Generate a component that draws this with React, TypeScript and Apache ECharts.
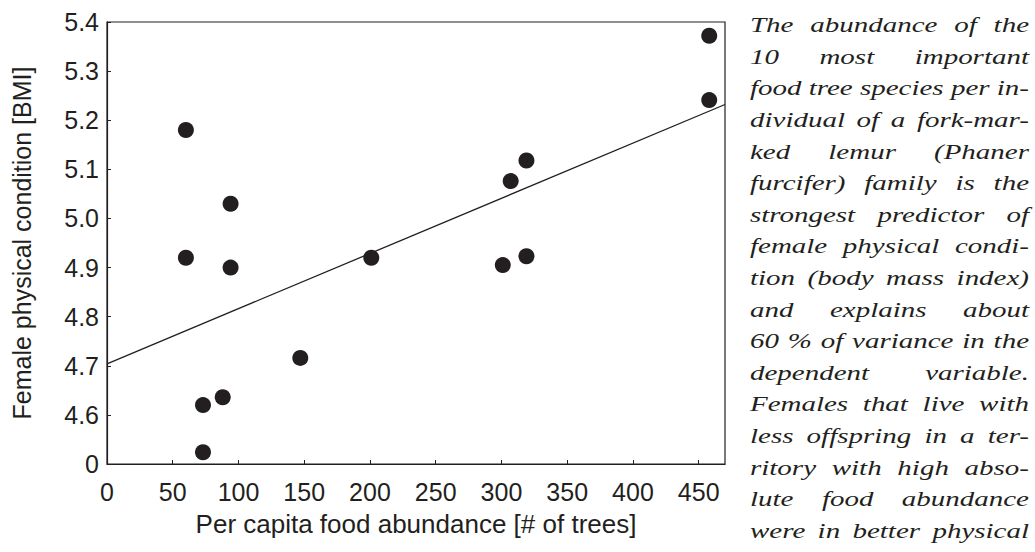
import React, { useEffect, useRef } from "react";
import * as echarts from "echarts";

// Per capita food abundance (# of trees) and female BMI, one point per family
const abundance = [60, 60, 94, 94, 73, 88, 73, 147, 201, 301, 307, 319, 319, 458, 458];
const bmi = [5.18, 4.92, 5.03, 4.9, 4.62, 4.636, 4.524, 4.716, 4.92, 4.905, 5.076, 5.118, 4.923, 5.372, 5.241];

// Least-squares fit line end points
const fitX = [0, 470];
const fitY = [4.704, 5.232];

const xTicks = [0, 50, 100, 150, 200, 250, 300, 350, 400, 450];
const yTicks = [4.5, 4.6, 4.7, 4.8, 4.9, 5.0, 5.1, 5.2, 5.3, 5.4];
const yTickLabels = ["0", "4.6", "4.7", "4.8", "4.9", "5.0", "5.1", "5.2", "5.3", "5.4"];

const captionLines = [
  "The abundance of the",
  "10 most important",
  "food tree species per in-",
  "dividual of a fork-mar-",
  "ked lemur (Phaner",
  "furcifer) family is the",
  "strongest predictor of",
  "female physical condi-",
  "tion (body mass index)",
  "and explains about",
  "60 % of variance in the",
  "dependent variable.",
  "Females that live with",
  "less offspring in a ter-",
  "ritory with high abso-",
  "lute food abundance",
  "were in better physical",
  "condition than others.",
];

const INK = "#231f20";
const AXIS_FONT = "Liberation Sans";
const CAPTION_FAMILY = "Liberation Serif";
const CAPTION_SIZE = 22;

// Justified caption column: every word is its own text element so the
// lines can be spread to the full column width.
function buildCaption() {
  const canvas = document.createElement("canvas");
  const ctx = canvas.getContext("2d")!;
  ctx.font = `italic ${CAPTION_SIZE}px "${CAPTION_FAMILY}", serif`;
  const left = 750;
  const right = 1029;
  const width = right - left;
  const top = 25;
  const lineStep = 31.6;
  const spaceW = ctx.measureText(" ").width;
  const measured = captionLines.map((line) => {
    const words = line.split(" ");
    const widths = words.map((w) => ctx.measureText(w).width);
    const total = widths.reduce((a, b) => a + b, 0);
    return { words, widths, total };
  });
  // widen the glyphs so the tightest line just fills the column
  const natural = Math.max(...measured.map((m) => m.total + spaceW * (m.words.length - 1)));
  const stretch = width / natural;
  const els: any[] = [];
  measured.forEach((m, i) => {
    const gaps = m.words.length - 1;
    const justify = i < captionLines.length - 1 && gaps > 0;
    const used = m.total * stretch;
    const gap = justify ? (width - used) / gaps : spaceW * stretch;
    let x = left;
    const y = top + i * lineStep;
    m.words.forEach((w, k) => {
      els.push({
        type: "text",
        x,
        y,
        scaleX: stretch,
        style: {
          text: w,
          fill: INK,
          fontFamily: CAPTION_FAMILY,
          fontStyle: "italic",
          fontSize: CAPTION_SIZE,
          textAlign: "left",
          textVerticalAlign: "middle",
        },
      });
      x += m.widths[k] * stretch + gap;
    });
  });
  return els;
}

export default function App() {
  const ref = useRef<HTMLDivElement>(null);

  useEffect(() => {
    if (!ref.current) return;
    const chart = echarts.init(ref.current, null, { renderer: "svg" });
    const labelFor = (v: number) => {
      const idx = yTicks.findIndex((t) => Math.abs(t - v) < 1e-6);
      return idx >= 0 ? yTickLabels[idx] : "";
    };
    chart.setOption({
      animation: false,
      backgroundColor: "#ffffff",
      grid: {
        left: 107,
        top: 22,
        width: 618,
        height: 442,
        show: true,
        borderColor: INK,
        borderWidth: 1.2,
        backgroundColor: "transparent",
      },
      xAxis: {
        type: "value",
        min: 0,
        max: 470,
        interval: 50,
        name: "Per capita food abundance [# of trees]",
        nameLocation: "middle",
        nameGap: 47,
        nameTextStyle: { fontFamily: AXIS_FONT, fontSize: 26, color: INK },
        axisLine: { show: true, onZero: false, lineStyle: { color: INK, width: 1.2 } },
        axisTick: { show: true, inside: true, length: 4, customValues: xTicks, lineStyle: { color: INK } },
        axisLabel: {
          customValues: xTicks,
          margin: 15,
          fontFamily: AXIS_FONT,
          fontSize: 25,
          color: INK,
        },
        splitLine: { show: false },
      },
      yAxis: {
        type: "value",
        min: 4.5,
        max: 5.4,
        interval: 0.1,
        name: "Female physical condition [BMI]",
        nameLocation: "middle",
        nameGap: 73,
        nameTextStyle: { fontFamily: AXIS_FONT, fontSize: 25, color: INK },
        axisLine: { show: true, onZero: false, lineStyle: { color: INK, width: 1.2 } },
        axisTick: { show: true, inside: true, length: 4, lineStyle: { color: INK } },
        axisLabel: {
          margin: 8,
          fontFamily: AXIS_FONT,
          fontSize: 25,
          color: INK,
          formatter: labelFor,
        },
        splitLine: { show: false },
      },
      series: [
        {
          type: "line",
          data: fitX.map((x, i) => [x, fitY[i]]),
          symbol: "none",
          lineStyle: { color: INK, width: 1.3 },
          z: 1,
        },
        {
          type: "scatter",
          data: abundance.map((x, i) => [x, bmi[i]]),
          symbol: "circle",
          symbolSize: 16,
          itemStyle: { color: INK, opacity: 1 },
          z: 2,
        },
      ],
      graphic: buildCaption(),
    });
    return () => chart.dispose();
  }, []);

  return (
    <div
      ref={ref}
      style={{ position: "absolute", left: 0, top: 0, width: 1035, height: 552, background: "#fff" }}
    />
  );
}
